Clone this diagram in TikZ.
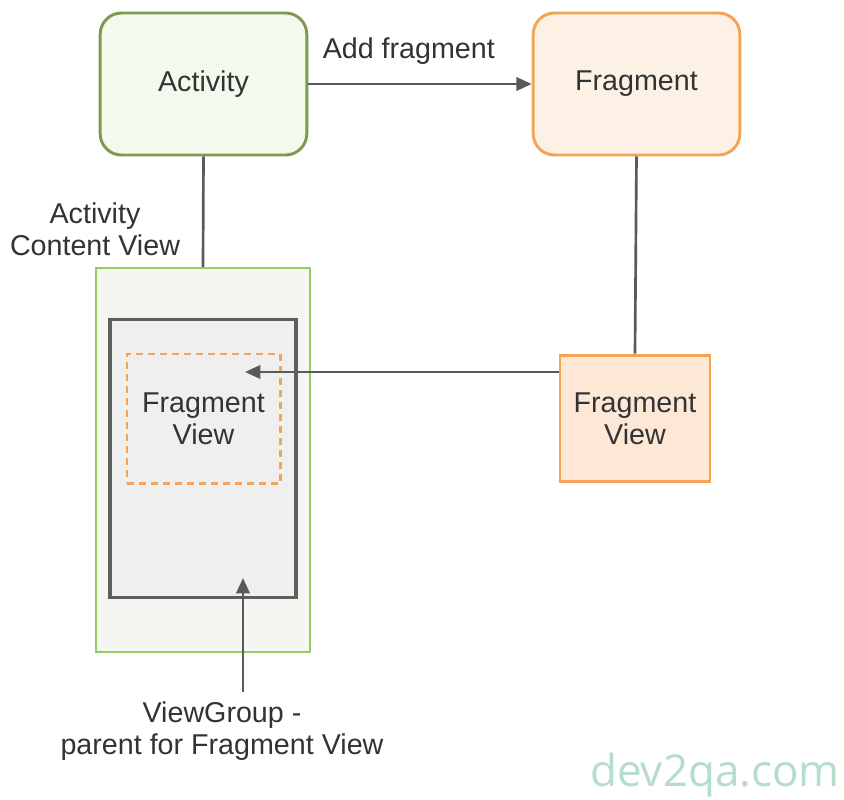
\documentclass[tikz,border=0pt]{standalone}
\usepackage{fontspec}
\setmainfont{Liberation Sans}
\newfontfamily\markfont{Open Sans}
\usetikzlibrary{arrows.meta}

\definecolor{actedge}{HTML}{7D9B4F}
\definecolor{actfill}{HTML}{F4F9EE}
\definecolor{fragedge}{HTML}{F4A455}
\definecolor{fragfill}{HTML}{FDF1E5}
\definecolor{fvfill}{HTML}{FDE8D6}
\definecolor{contedge}{HTML}{92CC62}
\definecolor{contfill}{HTML}{F4F6F1}
\definecolor{grpedge}{HTML}{5E5E5E}
\definecolor{grpfill}{HTML}{EFEFF0}
\definecolor{linkcol}{HTML}{5A5A5A}
\definecolor{txtcol}{HTML}{333333}
\definecolor{markcol}{HTML}{B6DCCB}

\tikzset{
  lbl/.style={text=txtcol, font=\fontsize{21.5}{24}\selectfont, align=center},
  actbox/.style={lbl, draw=actedge, fill=actfill, line width=2.2pt, rounded corners=16pt,
    minimum width=155pt, minimum height=106.5pt},
  fragbox/.style={lbl, draw=fragedge, fill=fragfill, line width=2.2pt, rounded corners=16pt,
    minimum width=155pt, minimum height=106.5pt},
  fvbox/.style={lbl, draw=fragedge, fill=fvfill, line width=2.2pt,
    minimum width=112.5pt, minimum height=95pt},
  contbox/.style={draw=contedge, fill=contfill, line width=1.6pt,
    minimum width=160.5pt, minimum height=288pt},
  grpbox/.style={draw=grpedge, fill=grpfill, line width=2.4pt,
    minimum width=139.5pt, minimum height=208pt},
  slotbox/.style={lbl, draw=fragedge, fill=grpfill, line width=2pt, dash pattern=on 5pt off 4pt,
    minimum width=115pt, minimum height=97pt},
  link/.style={draw=linkcol, line width=2pt},
  arrowlink/.style={link, -{Triangle[length=11.5pt,width=10pt]}},
}

\begin{document}
\begin{tikzpicture}[x=0.75pt,y=-0.75pt]
  \useasboundingbox[fill=white] (0,0) rectangle (844,800);

  % top row: activity and fragment
  \node[actbox]  (act)  at (203.5,84) {Activity};
  \node[fragbox] (frag) at (636.5,84) {Fragment};

  % activity content view with its view group and slot
  \node[contbox] (cont) at (203,460) {};
  \node[grpbox]  (grp)  at (203,458.5) {};
  \node[slotbox] (slot) at (203.5,418.5) {Fragment\\View};

  % fragment's own view
  \node[fvbox] (fv) at (635,418.5) {Fragment\\View};

  % labels
  \node[lbl] (cvlabel) at (95,229) {Activity\\Content View};
  \node[lbl] (vglabel) at (222,731) {ViewGroup -\\parent for Fragment View};
  \node[text=markcol, font=\markfont\fontsize{33}{38}\selectfont] (mark) at (715,775) {dev2qa.com};

  % connectors
  \draw[arrowlink] (act.east) -- node[lbl, above=10pt, pos=0.45] (addlbl) {Add fragment} (frag.west);
  \draw[link] (act.south) -- (cont.north);
  \draw[link] (frag.south) -- (fv.north);

  \coordinate (slottip) at (245,372);
  \draw[arrowlink] (fv.west |- slottip) -- (slottip);

  \coordinate (vgstart) at (243,692);
  \coordinate (vgtip) at (243,578);
  \draw[arrowlink] (vgstart) -- (vgtip);
\end{tikzpicture}
\end{document}
